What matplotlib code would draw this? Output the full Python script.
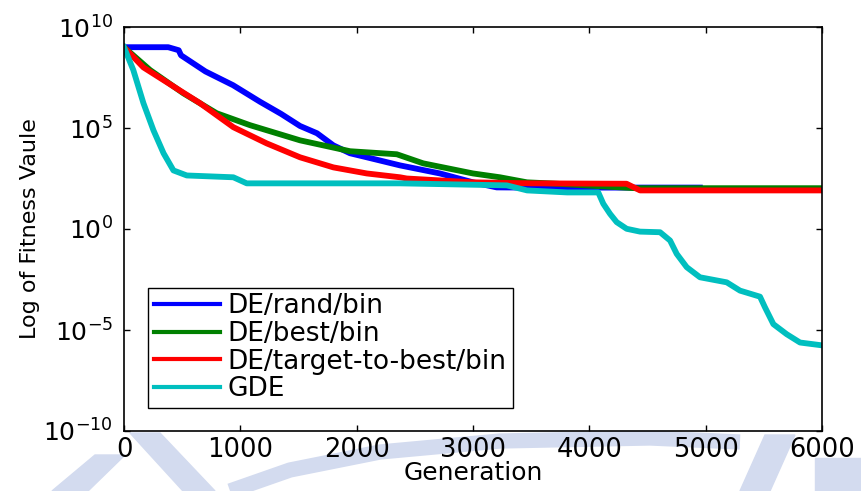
import numpy as np
import matplotlib.pyplot as plt
from matplotlib.patches import Polygon
from matplotlib.lines import Line2D
from matplotlib.ticker import NullLocator

plt.rcParams['font.family'] = ['DejaVu Sans']
plt.rcParams['axes.unicode_minus'] = False

# convergence curves, values given as log10 of the fitness
gen_rand = [0, 380, 470, 490, 700, 937, 1169, 1350, 1513, 1659, 1800, 1943, 2087,
            2372, 2716, 3000, 3204, 3500, 4950]
log_rand = [9.0, 9.0, 8.85, 8.6, 7.8, 7.12, 6.3, 5.7, 5.1, 4.74, 4.14, 3.75, 3.55,
            3.15, 2.75, 2.31, 2.06, 2.05, 2.05]

gen_best = [0, 224, 510, 797, 1083, 1513, 1943, 2345, 2572, 3000, 3232, 3464, 3690,
            4300, 4400, 6000]
log_best = [9.0, 7.87, 6.72, 5.73, 5.14, 4.39, 3.85, 3.70, 3.25, 2.75, 2.56, 2.31, 2.25,
            2.05, 2.02, 2.02]

gen_t2b = [0, 167, 367, 653, 940, 1226, 1513, 1800, 2087, 2373, 2430, 3000, 3500,
           4320, 4436, 6000]
log_t2b = [9.0, 8.0, 7.27, 6.23, 5.04, 4.24, 3.55, 3.05, 2.75, 2.56, 2.50, 2.31, 2.26,
           2.24, 1.91, 1.91]

gen_gde = [0, 80, 167, 253, 340, 425, 540, 940, 1055, 2372, 3290, 3465, 3810, 4077,
           4120, 4178, 4235, 4321, 4436, 4608, 4694, 4751, 4837, 4951, 5181, 5295,
           5467, 5510, 5582, 5697, 5811, 6000]
log_gde = [9.0, 7.87, 6.23, 4.89, 3.75, 2.90, 2.65, 2.56, 2.26, 2.26, 2.16, 1.91, 1.81,
           1.81, 1.25, 0.75, 0.34, 0.01, -0.13, -0.16, -0.57, -1.23, -1.89, -2.39,
           -2.64, -3.05, -3.35, -3.88, -4.71, -5.21, -5.62, -5.76]

W, H = 861, 491
fig = plt.figure(figsize=(W/100, H/100), dpi=100)

# faint watermark behind the axes (pixel coords, y from top)
wm = '#d3dbef'
def px(pts):
    return [(x/W, 1-y/H) for x, y in pts]
for poly in [[(95, 455), (125, 455), (88, 491), (52, 491)],
             [(130, 433), (160, 433), (215, 491), (183, 491)],
             [(765, 435), (795, 435), (770, 491), (740, 491)],
             [(815, 458), (861, 458), (861, 491), (815, 491)]]:
    fig.add_artist(Polygon(px(poly), closed=True, color=wm, transform=fig.transFigure, zorder=0))
arc_x = [230, 290, 380, 500, 650, 740]
arc_y = [491, 470, 452, 441, 438, 442]
fig.add_artist(Line2D([x/W for x in arc_x], [1-y/H for y in arc_y], color=wm, lw=11,
                      transform=fig.transFigure, zorder=0, solid_capstyle='butt'))

ax = fig.add_axes([124/W, 1-431/H, (822-124)/W, (431-27)/H])
ax.set_zorder(1)

lw = 4.2
ax.semilogy(gen_rand, 10**np.array(log_rand), color=(0, 0, 1), lw=lw, label='DE/rand/bin')
ax.semilogy(gen_best, 10**np.array(log_best), color=(0, 0.5, 0), lw=lw, label='DE/best/bin')
ax.semilogy(gen_t2b, 10**np.array(log_t2b), color=(1, 0, 0), lw=lw, label='DE/target-to-best/bin')
ax.semilogy(gen_gde, 10**np.array(log_gde), color=(0, 0.75, 0.75), lw=lw, label='GDE')

ax.set_xlim(0, 6000)
ax.set_ylim(1e-10, 1e10)
ax.set_xticks(range(0, 6001, 1000))
ax.set_yticks([1e-10, 1e-5, 1e0, 1e5, 1e10])
ax.yaxis.set_minor_locator(NullLocator())
ax.tick_params(direction='in', top=True, right=True, length=4, width=1)
ax.tick_params(axis='x', labelsize=18.5, pad=4)
ax.tick_params(axis='y', labelsize=18, pad=8)
for s in ax.spines.values():
    s.set_linewidth(1.2)

ax.set_xlabel('Generation', fontsize=18, labelpad=-1)
ax.set_ylabel('Log of Fitness Vaule', fontsize=16, labelpad=2)

leg = ax.legend(loc='lower left', bbox_to_anchor=(148/W, 1-408/H), bbox_transform=fig.transFigure,
                borderaxespad=0, fontsize=19, handlelength=2.5, handletextpad=0.3,
                borderpad=0.22, labelspacing=0.06, fancybox=False, edgecolor='black',
                framealpha=1)
leg.get_frame().set_linewidth(1.0)
for line in leg.get_lines():
    line.set_linewidth(3)

fig.savefig('out.png', dpi=100)
